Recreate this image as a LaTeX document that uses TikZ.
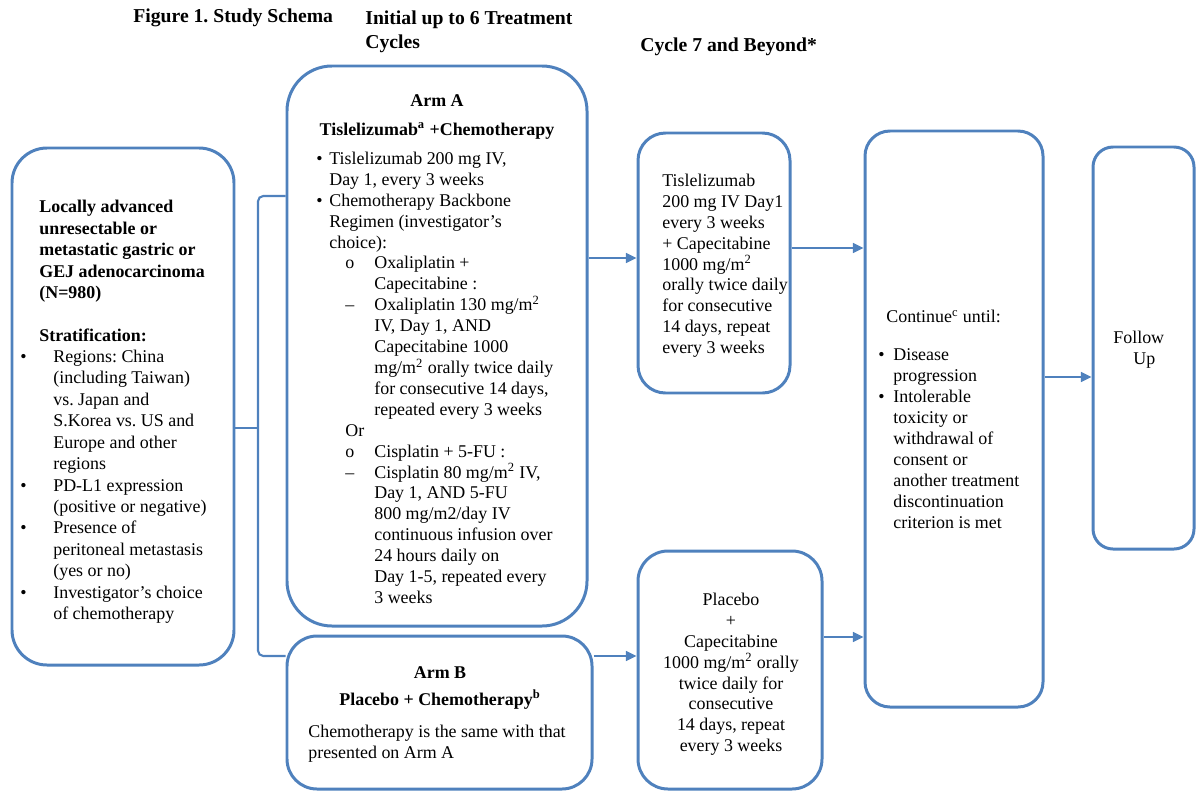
\documentclass[tikz,border=0pt]{standalone}
\usepackage{fontspec}
\setmainfont{Liberation Serif}
\usetikzlibrary{arrows.meta,fit}
\frenchspacing

\definecolor{schemablue}{RGB}{79,129,189}
\newcommand{\bodyfont}{\fontsize{10.2}{11.9}\selectfont}
\newcommand{\titlefont}{\fontsize{11.2}{13.6}\selectfont\bfseries}
\newcommand{\blt}[1]{\makebox[#1][l]{\textbullet}}
\newcommand{\lvl}[2]{\hspace*{0.58cm}\makebox[0.58cm][l]{#1}#2}
\newcommand{\indnt}[1]{\hspace*{#1}}

\begin{document}
\begin{tikzpicture}[x=0.02cm, y=-0.02cm,
    box/.style={draw=schemablue, line width=1.7pt, inner sep=0pt, rounded corners=#1},
    box/.default=0.6cm,
    conn/.style={draw=schemablue, line width=1.2pt},
    arr/.style={conn, -{Triangle[length=6pt,width=5.5pt]}},
    txt/.style={inner sep=0pt, anchor=north west, align=left, font=\bodyfont},
    hd/.style={inner sep=0pt, anchor=base, font=\bodyfont\bfseries},
    ttl/.style={inner sep=0pt, anchor=north west, align=left, font=\titlefont}]
    \useasboundingbox (0,0) rectangle (1196,791);

    % headings
    \node[ttl] (fig) at (133,5.6) {\strut Figure 1. Study Schema};
    \node[ttl] (phaseone) at (365,7.6) {\strut Initial up to 6 Treatment\\Cycles};
    \node[ttl] (phasetwo) at (640,34.6) {\strut Cycle 7 and Beyond*};

    % boxes
    \node[box=0.7cm, fit={(12,148) (234,665)}] (pop) {};
    \node[box=0.9cm, fit={(287,66) (587,626)}] (armA) {};
    \node[box=0.6cm, fit={(287,636) (592,789)}] (armB) {};
    \node[box=0.55cm, fit={(638,133) (790,393)}] (cycA) {};
    \node[box=0.6cm, fit={(638,551) (822,789)}] (cycB) {};
    \node[box=0.5cm, fit={(865,131) (1043,707)}] (cont) {};
    \node[box=0.4cm, fit={(1093,147) (1194,549)}] (follow) {};

    % population
    \node[txt, font=\fontsize{10.2}{12.2}\selectfont] (poptxt) at (20,197.4) {\strut
        \indnt{0.38cm}\textbf{Locally advanced}\\
        \indnt{0.38cm}\textbf{unresectable or}\\
        \indnt{0.38cm}\textbf{metastatic gastric or}\\
        \indnt{0.38cm}\textbf{GEJ adenocarcinoma}\\
        \indnt{0.38cm}\textbf{(N=980)}\\[12pt]
        \indnt{0.38cm}\textbf{Stratification:}\\
        \blt{0.66cm}Regions: China\\
        \indnt{0.66cm}(including Taiwan)\\
        \indnt{0.66cm}vs. Japan and\\
        \indnt{0.66cm}S.Korea vs. US and\\
        \indnt{0.66cm}Europe and other\\
        \indnt{0.66cm}regions\\
        \blt{0.66cm}PD-L1 expression\\
        \indnt{0.66cm}(positive or negative)\\
        \blt{0.66cm}Presence of\\
        \indnt{0.66cm}peritoneal metastasis\\
        \indnt{0.66cm}(yes or no)\\
        \blt{0.66cm}Investigator’s choice\\
        \indnt{0.66cm}of chemotherapy};

    % arm A
    \node[hd] (armAttl) at (437,106) {Arm A};
    \node[hd] (armAdrug) at (437,135) {Tislelizumab\textsuperscript{a} +Chemotherapy};
    \node[txt] (armAtxt) at (316,149.4) {\strut
        \blt{0.26cm}Tislelizumab 200 mg IV,\\
        \indnt{0.26cm}Day 1, every 3 weeks\\
        \blt{0.26cm}Chemotherapy Backbone\\
        \indnt{0.26cm}Regimen (investigator’s\\
        \indnt{0.26cm}choice):\\
        \lvl{o}{Oxaliplatin +}\\
        \indnt{1.16cm}Capecitabine :\\
        \lvl{--}{Oxaliplatin 130 mg/m\textsuperscript{2}}\\
        \indnt{1.16cm}IV, Day 1, AND\\
        \indnt{1.16cm}Capecitabine 1000\\
        \indnt{1.16cm}mg/m\textsuperscript{2} orally twice daily\\
        \indnt{1.16cm}for consecutive 14 days,\\
        \indnt{1.16cm}repeated every 3 weeks\\
        \indnt{0.58cm}Or\\
        \lvl{o}{Cisplatin + 5-FU :}\\
        \lvl{--}{Cisplatin 80 mg/m\textsuperscript{2} IV,}\\
        \indnt{1.16cm}Day 1, AND 5-FU\\
        \indnt{1.16cm}800 mg/m2/day IV\\
        \indnt{1.16cm}continuous infusion over\\
        \indnt{1.16cm}24 hours daily on\\
        \indnt{1.16cm}Day 1-5, repeated every\\
        \indnt{1.16cm}3 weeks};

    % arm B
    \node[hd] (armBttl) at (440,678) {Arm B};
    \node[hd] (armBdrug) at (440,705) {Placebo + Chemotherapy\textsuperscript{b}};
    \node[txt] (armBtxt) at (308,722.4) {\strut Chemotherapy is the same with that\\presented on Arm A};

    % cycle 7 and beyond
    \node[txt] (cycAtxt) at (662,171.4) {\strut Tislelizumab\\
        200 mg IV Day1\\
        every 3 weeks\\
        + Capecitabine\\
        1000 mg/m\textsuperscript{2}\\
        orally twice daily\\
        for consecutive\\
        14 days, repeat\\
        every 3 weeks};
    \node[txt, anchor=north, align=center] (cycBtxt) at (731,590.4) {\strut Placebo\\
        +\\
        Capecitabine\\
        1000 mg/m\textsuperscript{2} orally\\
        twice daily for\\
        consecutive\\
        14 days, repeat\\
        every 3 weeks};

    \node[txt] (conttxt) at (878,307.4) {\strut
        \indnt{0.16cm}Continue\textsuperscript{c} until:\\[10pt]
        \blt{0.3cm}Disease\\
        \indnt{0.3cm}progression\\
        \blt{0.3cm}Intolerable\\
        \indnt{0.3cm}toxicity or\\
        \indnt{0.3cm}withdrawal of\\
        \indnt{0.3cm}consent or\\
        \indnt{0.3cm}another treatment\\
        \indnt{0.3cm}discontinuation\\
        \indnt{0.3cm}criterion is met};
    \node[txt] (followtxt) at (1113,328.4) {\strut Follow\\\indnt{0.4cm}Up};

    % randomisation bracket
    \coordinate (brtop) at (258,196);
    \coordinate (brmid) at (258,428);
    \coordinate (brbot) at (258,656);
    \draw[conn, rounded corners=3pt] (armA.west |- brtop) -- (brtop) -- (brbot) -- (armB.west |- brbot);
    \draw[conn] (pop.east |- brmid) -- (brmid);

    % arrows
    \coordinate (lvA) at (0,258);
    \coordinate (lvB) at (0,248);
    \coordinate (lvC) at (0,637);
    \coordinate (lvD) at (0,377);
    \draw[arr] (armA.east |- lvA) -- (cycA.west |- lvA);
    \draw[arr] (cycA.east |- lvB) -- (cont.west |- lvB);
    \draw[arr] (armB.east |- brbot) -- (cycB.west |- brbot);
    \draw[arr] (cycB.east |- lvC) -- (cont.west |- lvC);
    \draw[arr] (cont.east |- lvD) -- (follow.west |- lvD);
\end{tikzpicture}
\end{document}
